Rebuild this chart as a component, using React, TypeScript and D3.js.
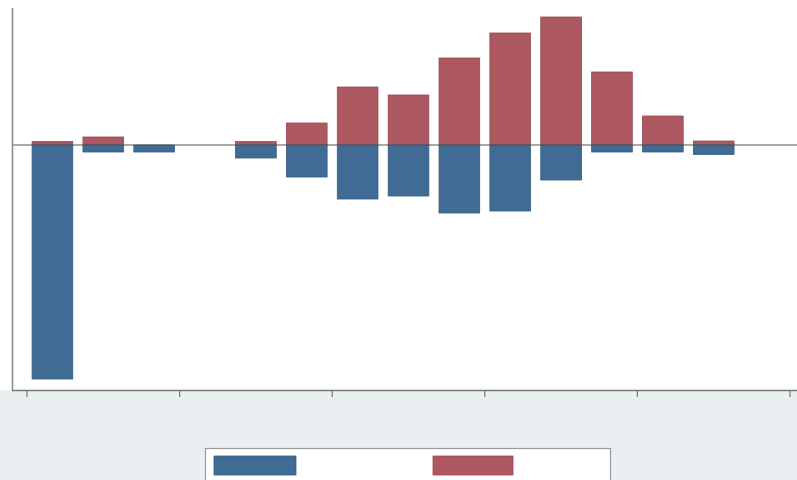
import React from "react";
import * as d3 from "d3";

const positions = [0.5, 1.5, 2.5, 4.5, 5.5, 6.5, 7.5, 8.5, 9.5, 10.5, 11.5, 12.5, 13.5];
const redValues = [0.35, 0.8, 0, 0.35, 2.2, 5.8, 5.0, 8.7, 11.2, 12.8, 7.3, 2.9, 0.4];
const blueValues = [-23.4, -0.7, -0.7, -1.3, -3.2, -5.4, -5.1, -6.8, -6.6, -3.5, -0.7, -0.7, -0.95];
const xTicks = [0, 3, 6, 9, 12, 15];

const W = 797;
const H = 480;
const BLUE = "#3f6b95";
const BLUE_EDGE = "#355d83";
const RED = "#ad5860";
const RED_EDGE = "#984a52";

export default function App() {
  const x = d3.scaleLinear().domain([0, 15]).range([27, 790]);
  const y = d3.scaleLinear().domain([-24.5, 13.7]).range([390, 8]);
  const bw = (x(1) - x(0)) * 0.8;
  const y0 = y(0);

  return (
    <svg width={W} height={H} style={{ position: "absolute", left: 0, top: 0 }}>
      <rect x={0} y={0} width={W} height={H} fill="#eaf0f2" />
      <rect x={0} y={0} width={W} height={390} fill="#ffffff" />
      {positions.map((p, i) => {
        const v = redValues[i];
        if (!v) return null;
        return (
          <rect
            key={"r" + i}
            x={x(p) - bw / 2}
            y={y(v)}
            width={bw}
            height={y0 - y(v)}
            fill={RED}
            stroke={RED_EDGE}
            strokeWidth={0.8}
          />
        );
      })}
      {positions.map((p, i) => {
        const v = blueValues[i];
        if (!v) return null;
        return (
          <rect
            key={"b" + i}
            x={x(p) - bw / 2}
            y={y0}
            width={bw}
            height={y(v) - y0}
            fill={BLUE}
            stroke={BLUE_EDGE}
            strokeWidth={0.8}
          />
        );
      })}
      <line x1={12} x2={W} y1={y0} y2={y0} stroke="#555" strokeWidth={1} />
      <line x1={12.5} x2={12.5} y1={8} y2={390} stroke="#888" strokeWidth={1.5} />
      <line x1={12} x2={W} y1={390.5} y2={390.5} stroke="#777" strokeWidth={1.5} />
      {xTicks.map((t) => (
        <line key={t} x1={x(t)} x2={x(t)} y1={390} y2={397} stroke="#777" strokeWidth={1.2} />
      ))}
      <rect x={205.5} y={448.5} width={405} height={40} fill="#ffffff" stroke="#9a9a9a" strokeWidth={1.2} />
      <rect x={214} y={456} width={82} height={19} fill={BLUE} stroke={BLUE_EDGE} strokeWidth={0.8} />
      <rect x={433} y={456} width={80} height={19} fill={RED} stroke={RED_EDGE} strokeWidth={0.8} />
    </svg>
  );
}
